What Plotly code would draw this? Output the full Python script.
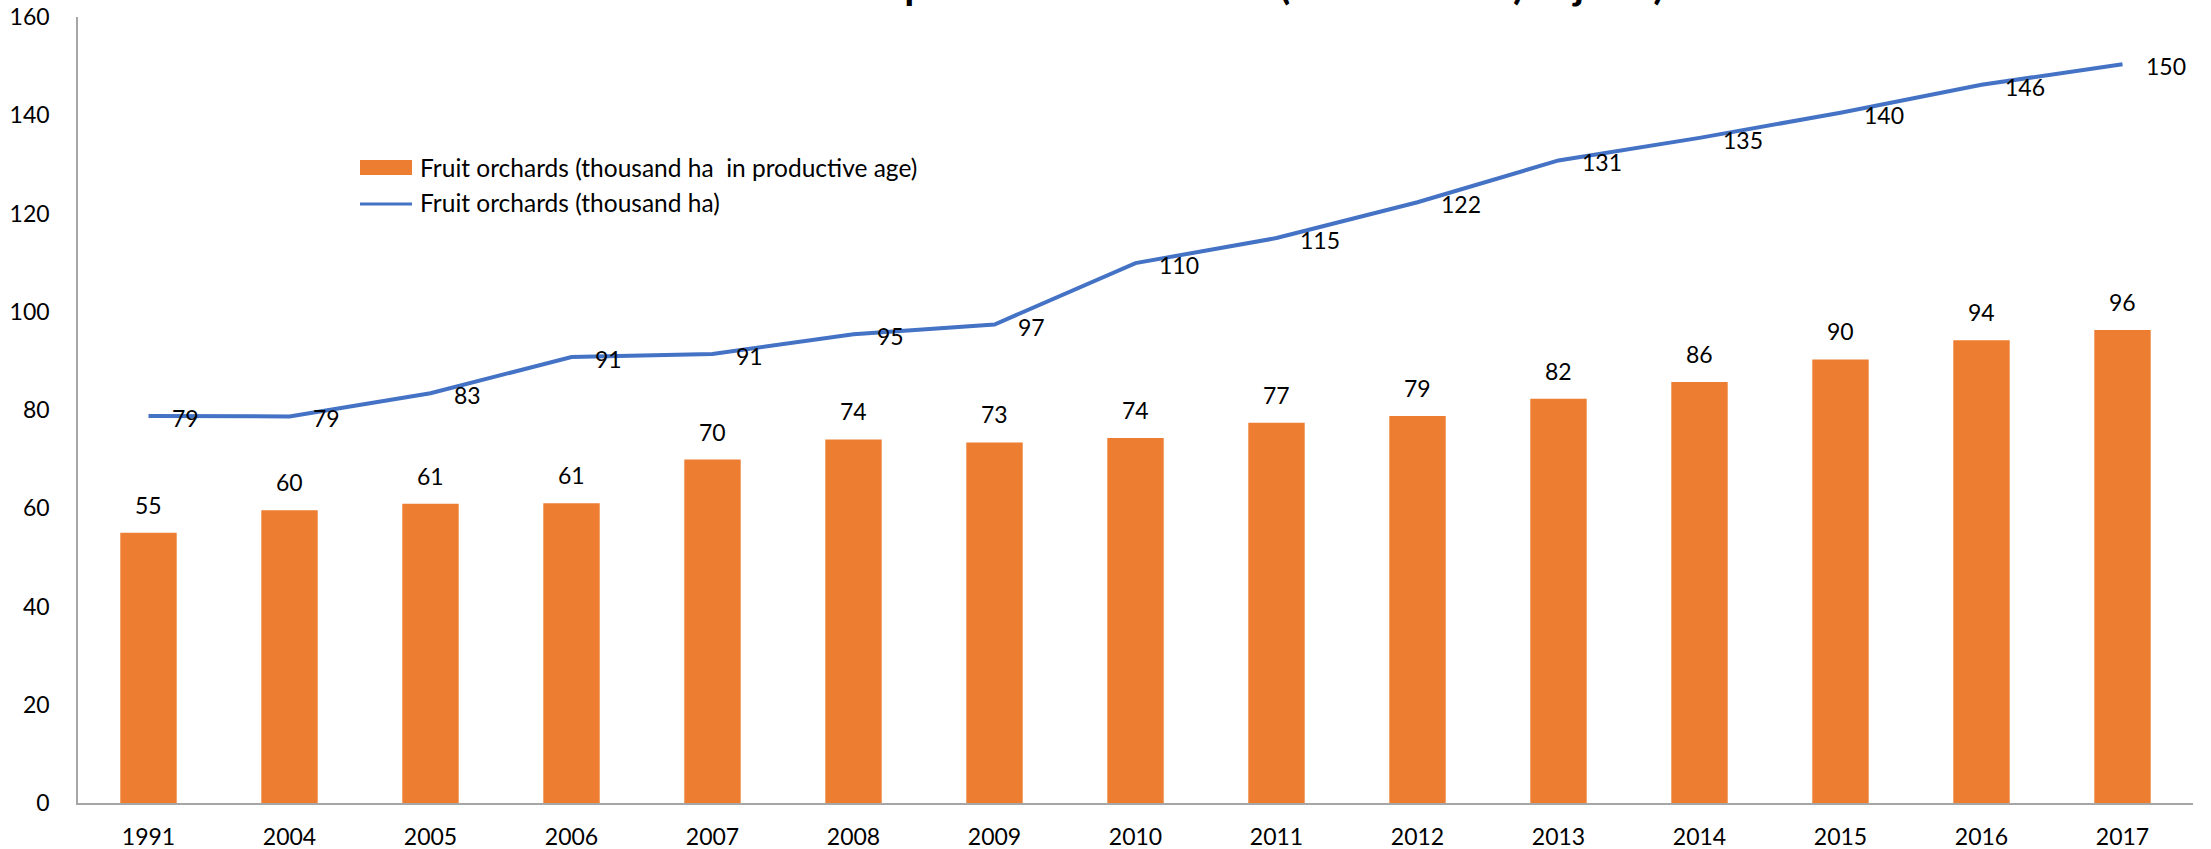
import plotly.graph_objects as go

# Tajstat: fruit orchard areas, thousand ha
years = ["1991", "2004", "2005", "2006", "2007", "2008", "2009", "2010",
         "2011", "2012", "2013", "2014", "2015", "2016", "2017"]
productive = [55.0, 59.6, 60.9, 61.0, 69.9, 74.0, 73.4, 74.3,
              77.4, 78.8, 82.3, 85.7, 90.3, 94.2, 96.3]
total = [78.8, 78.7, 83.4, 90.8, 91.4, 95.4, 97.4, 109.9,
         115.0, 122.3, 130.8, 135.4, 140.5, 146.2, 150.4]

bar_name = "Fruit orchards (thousand ha  in productive age)"
line_name = "Fruit orchards (thousand ha)"
title_text = "Total areas of orchards and productive orchards (thousand ha) Tajstat)"

ORANGE = "#ED7D31"
BLUE = "#4472C4"
FONT = "Lato"

W, H = 2211, 849
ML, MR, MT, MB = 78, 18, 17, 46
PW, PH = W - ML - MR, H - MT - MB


def px_x(x):
    return (x - ML) / PW


def px_y(y):
    return (H - MB - y) / PH


fig = go.Figure()
fig.add_trace(go.Bar(x=years, y=productive, name=bar_name,
                     marker=dict(color=ORANGE, line=dict(width=0))))
fig.add_trace(go.Scatter(x=years, y=total, name=line_name, mode="lines",
                         line=dict(color=BLUE, width=4)))

# value labels; x given as category index on the category axis
annotations = []
for i, v in enumerate(productive):
    annotations.append(dict(x=i, y=v, text=f"{v:.0f}", showarrow=False,
                            xanchor="center", yanchor="bottom", yshift=12,
                            font=dict(family=FONT, size=23, color="#000")))
for i, v in enumerate(total):
    annotations.append(dict(x=i, y=v, text=f"{v:.0f}", showarrow=False,
                            xanchor="left", yanchor="middle", xshift=21, yshift=-2,
                            font=dict(family=FONT, size=23, color="#000")))

# title, partly above the page edge
annotations.append(dict(x=px_x(1036), y=px_y(10), xref="paper", yref="paper",
                        text=f"<b>{title_text}</b>", showarrow=False,
                        xanchor="center", yanchor="bottom",
                        font=dict(family=FONT, size=41, color="#000")))

# legend
annotations.append(dict(x=px_x(418), y=px_y(168), xref="paper", yref="paper",
                        text=bar_name, showarrow=False, xanchor="left", yanchor="middle",
                        font=dict(family=FONT, size=24.5, color="#000")))
annotations.append(dict(x=px_x(418), y=px_y(203), xref="paper", yref="paper",
                        text=line_name, showarrow=False, xanchor="left", yanchor="middle",
                        font=dict(family=FONT, size=24.5, color="#000")))
shapes = [
    dict(type="rect", xref="paper", yref="paper",
         x0=px_x(360), x1=px_x(412), y0=px_y(175), y1=px_y(160),
         fillcolor=ORANGE, line=dict(width=0)),
    dict(type="line", xref="paper", yref="paper",
         x0=px_x(360), x1=px_x(412), y0=px_y(204), y1=px_y(204),
         line=dict(color=BLUE, width=3)),
]

fig.update_layout(
    width=W, height=H,
    margin=dict(l=ML, r=MR, t=MT, b=MB),
    paper_bgcolor="white", plot_bgcolor="white",
    showlegend=False,
    bargap=0.6,
    font=dict(family=FONT, size=23, color="#000"),
    annotations=annotations,
    shapes=shapes,
    xaxis=dict(type="category", range=[-0.5, len(years) - 0.5], automargin=False,
               showgrid=False, showline=True, linecolor="#A6A6A6",
               linewidth=1.5, ticks="", ticklabelstandoff=13,
               tickfont=dict(family=FONT, size=23, color="#000")),
    yaxis=dict(range=[0, 160], dtick=20, showgrid=False, zeroline=False, automargin=False,
               showline=True, linecolor="#A6A6A6", linewidth=1.5,
               ticks="", ticklabelstandoff=22,
               tickfont=dict(family=FONT, size=23, color="#000")),
)

fig.write_html("out.html")
